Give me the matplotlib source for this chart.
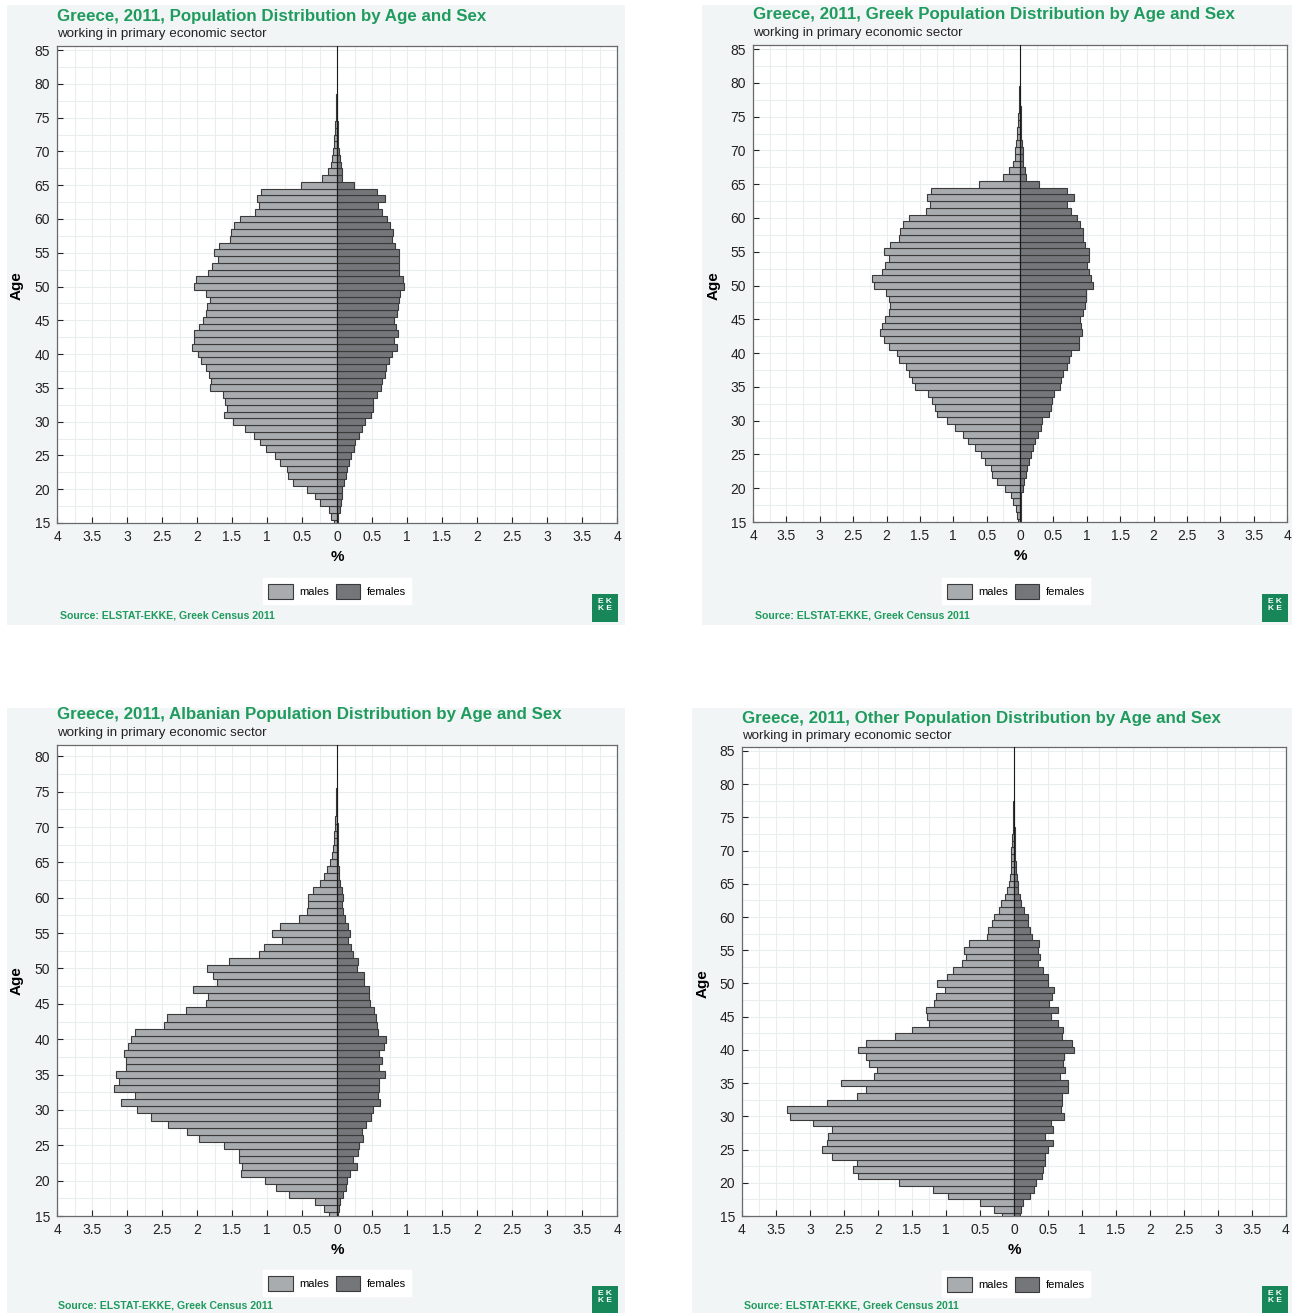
import matplotlib
matplotlib.use('Agg')
import matplotlib.pyplot as plt
import numpy as np
from matplotlib.patches import Rectangle, Patch
from matplotlib.ticker import FuncFormatter, MultipleLocator

plt.rcParams['font.family'] = ['Liberation Sans', 'DejaVu Sans']

# ---- data (percent of persons working in primary sector, by single year of age) ----
ages_85 = list(range(15, 86))
ages_80 = list(range(15, 81))

all_males = [0.05, 0.09, 0.12, 0.24, 0.31, 0.43, 0.63, 0.70, 0.71, 0.81,
             0.89, 1.01, 1.10, 1.18, 1.32, 1.48, 1.62, 1.57, 1.60, 1.63,
             1.82, 1.80, 1.83, 1.87, 1.95, 1.99, 2.07, 2.05, 2.05, 1.97,
             1.92, 1.87, 1.86, 1.82, 1.87, 2.04, 2.01, 1.84, 1.79, 1.70,
             1.76, 1.69, 1.53, 1.51, 1.47, 1.39, 1.17, 1.11, 1.14, 1.09,
             0.51, 0.21, 0.13, 0.09, 0.07, 0.06, 0.05, 0.04, 0.03, 0.03,
             0.02, 0.02, 0.01, 0.01, 0.0, 0.0, 0.0, 0.0, 0.0, 0.0, 0.0]
all_females = [0.01, 0.02, 0.04, 0.05, 0.07, 0.07, 0.10, 0.13, 0.14, 0.17,
               0.20, 0.24, 0.26, 0.32, 0.36, 0.40, 0.48, 0.51, 0.52, 0.57,
               0.63, 0.64, 0.68, 0.70, 0.74, 0.79, 0.86, 0.81, 0.87, 0.84,
               0.81, 0.86, 0.87, 0.89, 0.90, 0.96, 0.94, 0.89, 0.88, 0.89,
               0.89, 0.83, 0.79, 0.80, 0.75, 0.71, 0.64, 0.58, 0.68, 0.57,
               0.24, 0.07, 0.07, 0.05, 0.04, 0.03, 0.02, 0.02, 0.01, 0.01,
               0.0, 0.0, 0.0, 0.0, 0.0, 0.0, 0.0, 0.0, 0.0, 0.0, 0.0]

greek_males = [0.03, 0.05, 0.06, 0.10, 0.13, 0.22, 0.35, 0.42, 0.43, 0.52,
               0.58, 0.68, 0.78, 0.86, 0.97, 1.09, 1.24, 1.27, 1.32, 1.38,
               1.57, 1.62, 1.67, 1.71, 1.81, 1.85, 1.97, 2.04, 2.09, 2.06,
               2.02, 1.97, 1.95, 1.96, 2.01, 2.18, 2.21, 2.07, 2.02, 1.96,
               2.03, 1.95, 1.82, 1.80, 1.75, 1.66, 1.41, 1.35, 1.40, 1.34,
               0.62, 0.25, 0.16, 0.10, 0.08, 0.07, 0.06, 0.05, 0.04, 0.03,
               0.03, 0.02, 0.02, 0.01, 0.01, 0.0, 0.0, 0.0, 0.0, 0.0, 0.0]
greek_females = [0.01, 0.01, 0.015, 0.015, 0.02, 0.04, 0.06, 0.09, 0.10, 0.13,
                 0.16, 0.19, 0.23, 0.27, 0.31, 0.33, 0.43, 0.46, 0.48, 0.51,
                 0.60, 0.62, 0.65, 0.70, 0.73, 0.77, 0.89, 0.89, 0.93, 0.91,
                 0.90, 0.94, 0.97, 0.99, 0.99, 1.09, 1.06, 1.03, 1.01, 1.03,
                 1.03, 0.97, 0.95, 0.95, 0.90, 0.86, 0.76, 0.71, 0.81, 0.70,
                 0.28, 0.09, 0.07, 0.05, 0.04, 0.04, 0.03, 0.02, 0.02, 0.01,
                 0.01, 0.01, 0.0, 0.0, 0.0, 0.0, 0.0, 0.0, 0.0, 0.0, 0.0]

albanian_males = [0.11, 0.19, 0.31, 0.68, 0.87, 1.03, 1.37, 1.36, 1.40, 1.40,
                  1.61, 1.97, 2.14, 2.41, 2.66, 2.86, 3.09, 2.89, 3.18, 3.12,
                  3.16, 3.02, 3.01, 3.04, 2.98, 2.94, 2.88, 2.47, 2.43, 2.16,
                  1.87, 1.85, 2.06, 1.72, 1.77, 1.86, 1.55, 1.12, 1.05, 0.78,
                  0.93, 0.81, 0.54, 0.43, 0.42, 0.41, 0.35, 0.24, 0.19, 0.15,
                  0.10, 0.07, 0.06, 0.05, 0.04, 0.03, 0.03, 0.02, 0.02, 0.01,
                  0.01, 0.0, 0.0, 0.0, 0.0, 0.0]
albanian_females = [0.02, 0.03, 0.04, 0.08, 0.13, 0.14, 0.18, 0.28, 0.23, 0.30,
                    0.32, 0.37, 0.35, 0.41, 0.48, 0.52, 0.61, 0.59, 0.60, 0.60,
                    0.69, 0.60, 0.64, 0.60, 0.67, 0.70, 0.58, 0.57, 0.55, 0.53,
                    0.47, 0.45, 0.45, 0.38, 0.38, 0.29, 0.30, 0.23, 0.20, 0.16,
                    0.19, 0.15, 0.11, 0.08, 0.07, 0.08, 0.07, 0.04, 0.03, 0.03,
                    0.02, 0.01, 0.02, 0.01, 0.01, 0.01, 0.0, 0.0, 0.0, 0.0,
                    0.0, 0.0, 0.0, 0.0, 0.0, 0.0]

other_males = [0.17, 0.29, 0.50, 0.97, 1.19, 1.69, 2.30, 2.37, 2.31, 2.67,
               2.82, 2.75, 2.73, 2.67, 2.96, 3.29, 3.34, 2.75, 2.31, 2.18,
               2.54, 2.06, 2.01, 2.13, 2.17, 2.29, 2.18, 1.75, 1.50, 1.25,
               1.28, 1.29, 1.18, 1.15, 1.01, 1.13, 0.99, 0.89, 0.76, 0.71,
               0.74, 0.66, 0.39, 0.38, 0.32, 0.29, 0.22, 0.19, 0.13, 0.11,
               0.07, 0.06, 0.05, 0.05, 0.04, 0.04, 0.03, 0.03, 0.02, 0.02,
               0.01, 0.01, 0.01, 0.0, 0.0, 0.0, 0.0, 0.0, 0.0, 0.0, 0.0]
other_females = [0.09, 0.11, 0.13, 0.24, 0.30, 0.33, 0.41, 0.42, 0.46, 0.45,
                 0.50, 0.57, 0.46, 0.57, 0.55, 0.73, 0.69, 0.71, 0.71, 0.79,
                 0.80, 0.67, 0.75, 0.72, 0.74, 0.88, 0.85, 0.71, 0.72, 0.65,
                 0.54, 0.64, 0.52, 0.56, 0.59, 0.50, 0.50, 0.42, 0.36, 0.38,
                 0.36, 0.37, 0.26, 0.24, 0.20, 0.21, 0.14, 0.11, 0.09, 0.06,
                 0.06, 0.04, 0.03, 0.03, 0.02, 0.02, 0.01, 0.01, 0.01, 0.0,
                 0.0, 0.0, 0.0, 0.0, 0.0, 0.0, 0.0, 0.0, 0.0, 0.0, 0.0]

titles = ['Greece, 2011, Population Distribution by Age and Sex',
          'Greece, 2011, Greek Population Distribution by Age and Sex',
          'Greece, 2011, Albanian Population Distribution by Age and Sex',
          'Greece, 2011, Other Population Distribution by Age and Sex']
subtitle = 'working in primary economic sector'
source = 'Source: ELSTAT-EKKE, Greek Census 2011'

GREEN = '#1f9b5e'
LOGO_GREEN = '#17875a'
MALE_C = '#a9acae'
FEMALE_C = '#747679'
EDGE_C = '#3a3a3a'
PANEL_BG = '#f2f5f6'
GRID_C = '#eaedef'

W, H = 1299, 1313
fig = plt.figure(figsize=(W / 100, H / 100), dpi=100)


def fx(x):
    return x / W


def fy(y):
    return 1 - y / H


def draw_panel(panel, ages, males, females, title, ytop, yticks):
    # panel background
    l, t, r, b = panel['bg']
    fig.patches.append(Rectangle((fx(l), fy(b)), fx(r - l), (b - t) / H,
                                 transform=fig.transFigure, facecolor=PANEL_BG,
                                 edgecolor='none', zorder=-5))
    al, at, ar, ab = panel['ax']
    ax = fig.add_axes([fx(al), fy(ab), fx(ar - al), (ab - at) / H])
    ax.set_zorder(2)
    ax.set_facecolor('white')
    m = np.array(males)
    f = np.array(females)
    # only bars with a value get drawn, so the spike stays thin at the top
    ax.barh(np.array(ages)[m > 0], -m[m > 0], height=1.0, color=MALE_C,
            edgecolor=EDGE_C, linewidth=0.8, zorder=3)
    ax.barh(np.array(ages)[f > 0], f[f > 0], height=1.0, color=FEMALE_C,
            edgecolor=EDGE_C, linewidth=0.8, zorder=3)
    ax.axvline(0, color='#1a1a1a', lw=0.8, zorder=4)
    ax.set_xlim(-4, 4)
    ax.set_ylim(15, ytop)
    ax.set_xticks(np.arange(-4, 4.01, 0.5))
    ax.xaxis.set_minor_locator(MultipleLocator(0.25))
    ax.set_yticks(yticks)
    ax.yaxis.set_minor_locator(MultipleLocator(2.5))
    ax.xaxis.set_major_formatter(FuncFormatter(lambda v, p: '%g' % abs(v)))
    ax.grid(True, which='both', color=GRID_C, lw=0.8, zorder=0)
    ax.set_axisbelow(True)
    ax.tick_params(which='major', direction='in', length=4, width=0.8,
                   labelsize=10, colors='#222222', pad=5)
    ax.tick_params(which='minor', length=0)
    for s in ax.spines.values():
        s.set_color('#6a6a6a')
        s.set_linewidth(0.9)

    tx, ty = panel['title']
    fig.text(fx(tx), fy(ty), title, color=GREEN, fontsize=12.2, fontweight='bold',
             va='center', ha='left')
    fig.text(fx(tx), fy(ty + 18), subtitle, color='#222222', fontsize=9.6,
             va='center', ha='left')
    fig.text(fx(panel['ylab'][0]), fy(panel['ylab'][1]), 'Age', rotation=90,
             fontsize=11, fontweight='bold', va='center', ha='center')
    fig.text(fx((al + ar) / 2), fy(ab + 34), '%', fontsize=11,
             fontweight='bold', va='center', ha='center')

    # legend
    lx, ly = panel['legend']
    handles = [Patch(facecolor=MALE_C, edgecolor=EDGE_C, lw=0.8, label='males'),
               Patch(facecolor=FEMALE_C, edgecolor=EDGE_C, lw=0.8, label='females')]
    leg = fig.legend(handles=handles, loc='center', ncol=2,
                     bbox_to_anchor=(fx(lx), fy(ly)), fontsize=8,
                     frameon=True, fancybox=False, framealpha=1,
                     edgecolor='white', handlelength=2.2, handleheight=1.7,
                     columnspacing=0.6, handletextpad=0.6, borderpad=0.5)
    leg.get_frame().set_facecolor('white')

    sx, sy = panel['source']
    fig.text(fx(sx), fy(sy), source, color=GREEN, fontsize=7.6,
             fontweight='bold', va='center', ha='left')

    # EKKE logo
    gx, gy = panel['logo']
    fig.patches.append(Rectangle((fx(gx), fy(gy + 28)), fx(26), 28 / H,
                                 transform=fig.transFigure, facecolor=LOGO_GREEN,
                                 edgecolor='none', zorder=1))
    fig.text(fx(gx + 13), fy(gy + 11), 'E K\nK E', color='white', fontsize=6,
             fontweight='bold', va='center', ha='center', linespacing=0.9)
    return ax


panels = [
    {'bg': (7, 5, 625, 625), 'ax': (57, 46, 617, 523), 'title': (57, 16),
     'ylab': (17, 286), 'legend': (337, 591), 'source': (60, 615),
     'logo': (592, 594)},
    {'bg': (702, 5, 1292, 625), 'ax': (753, 45, 1287, 522), 'title': (753, 15),
     'ylab': (714, 286), 'legend': (1016, 591), 'source': (755, 615),
     'logo': (1262, 594)},
    {'bg': (7, 708, 625, 1313), 'ax': (57, 745, 617, 1216), 'title': (57, 715),
     'ylab': (17, 981), 'legend': (337, 1283), 'source': (58, 1306),
     'logo': (592, 1286)},
    {'bg': (692, 708, 1292, 1313), 'ax': (742, 747, 1286, 1216), 'title': (742, 718),
     'ylab': (703, 984), 'legend': (1016, 1284), 'source': (744, 1306),
     'logo': (1262, 1286)},
]

draw_panel(panels[0], ages_85, all_males, all_females, titles[0], 85.6, range(15, 86, 5))
draw_panel(panels[1], ages_85, greek_males, greek_females, titles[1], 85.6, range(15, 86, 5))
draw_panel(panels[2], ages_80, albanian_males, albanian_females, titles[2], 81.6, range(15, 81, 5))
draw_panel(panels[3], ages_85, other_males, other_females, titles[3], 85.6, range(15, 86, 5))

fig.savefig('out.png', dpi=100, facecolor='white')
